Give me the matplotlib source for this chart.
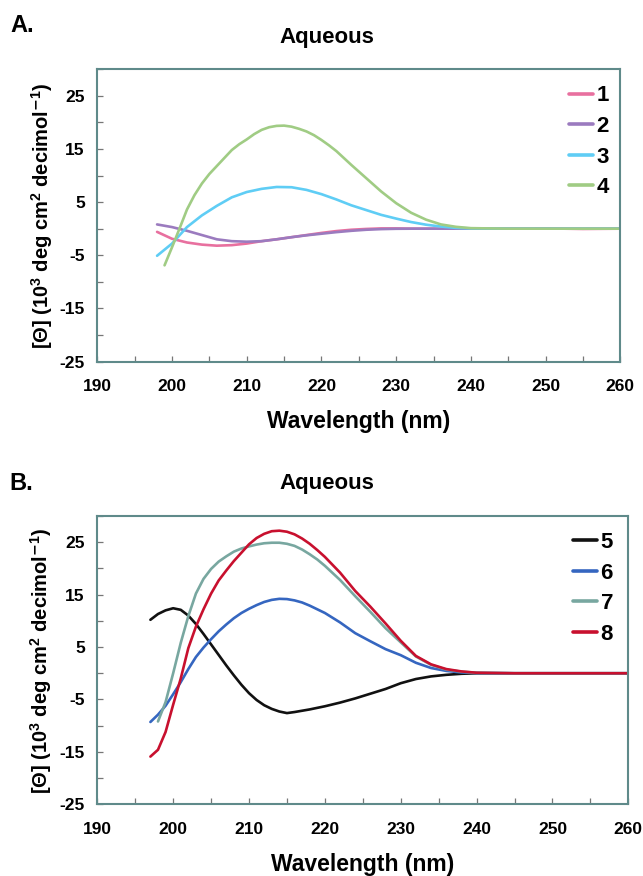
import matplotlib
matplotlib.use("Agg")
import matplotlib.pyplot as plt
from matplotlib.ticker import MultipleLocator

plt.rcParams["font.family"] = ["Liberation Sans", "DejaVu Sans"]
plt.rcParams["font.weight"] = "bold"
plt.rcParams["axes.unicode_minus"] = False
plt.rcParams["mathtext.fontset"] = "custom"
plt.rcParams["mathtext.rm"] = "Liberation Sans:bold"
plt.rcParams["mathtext.bf"] = "Liberation Sans:bold"
plt.rcParams["mathtext.default"] = "bf"

# ---- Panel A: peptides 1-4 in aqueous buffer ----
tail = [245, 250, 255, 260]
wl_a = [198, 200, 202, 204, 206, 208, 210, 212, 214, 216, 218, 220,
        222, 224, 226, 228, 230, 232, 234, 236, 238, 240] + tail
theta_1 = [-0.6, -1.9, -2.6, -3.0, -3.2, -3.1, -2.8, -2.35, -2.0, -1.6, -1.2, -0.8,
           -0.45, -0.2, -0.05, 0.05, 0.05, 0.0, 0.0, 0.0, 0.0, 0.0, 0.0, 0.05, -0.05, 0.0]
theta_2 = [0.8, 0.3, -0.4, -1.2, -2.0, -2.35, -2.45, -2.35, -2.0, -1.6, -1.25, -0.95,
           -0.65, -0.4, -0.2, -0.08, -0.02, 0.0, 0.0, 0.0, 0.0, 0.0, 0.0, 0.0, 0.0, 0.0]
theta_3 = [-5.1, -2.8, 0.3, 2.5, 4.3, 5.9, 6.9, 7.5, 7.85, 7.8, 7.3, 6.5,
           5.5, 4.4, 3.5, 2.6, 1.9, 1.25, 0.75, 0.4, 0.15, 0.05, 0.0, 0.0, 0.0, 0.0]
wl_a4 = [199, 200, 201, 202, 203, 204, 205, 206, 207, 208, 209, 210, 211, 212, 213, 214, 215,
         216, 217, 218, 219, 220, 221, 222, 223, 224, 226, 228, 230, 232, 234, 236, 238,
         240] + tail
theta_4 = [-6.9, -3.5, 0.0, 3.6, 6.3, 8.5, 10.3, 11.8, 13.3, 14.8, 15.9, 16.8, 17.8, 18.6,
           19.1, 19.35, 19.4, 19.2, 18.8, 18.3, 17.6, 16.7, 15.7, 14.6, 13.3, 12.0, 9.5, 7.0,
           4.8, 3.0, 1.7, 0.8, 0.35, 0.1, 0.0, 0.0, 0.0, 0.0]

# ---- Panel B: peptides 5-8 in aqueous buffer ----
wl_b5 = [197, 198, 199, 200, 201, 202, 203, 204, 205, 206, 207, 208, 209, 210, 211, 212, 213,
         214, 215, 216, 218, 220, 222, 224, 226, 228, 230, 232, 234, 236, 238, 240] + tail
theta_5 = [10.2, 11.3, 12.0, 12.4, 12.1, 11.0, 9.4, 7.5, 5.5, 3.5, 1.5, -0.4, -2.2, -3.8, -5.1,
           -6.1, -6.8, -7.3, -7.6, -7.4, -6.9, -6.3, -5.6, -4.8, -3.9, -3.0, -1.9, -1.1,
           -0.6, -0.3, -0.1, 0.0, 0.0, 0.0, 0.0, 0.0]
wl_b6 = [197, 198, 199, 200, 201, 202, 203, 204, 205, 206, 207, 208, 209, 210, 211, 212, 213,
         214, 215, 216, 217, 218, 220, 222, 224, 226, 228, 230, 232, 234, 236, 238,
         240] + tail
theta_6 = [-9.3, -7.9, -6.2, -4.0, -1.7, 0.8, 3.1, 4.9, 6.5, 8.0, 9.3, 10.5, 11.5, 12.3, 13.0,
           13.6, 14.0, 14.2, 14.15, 13.9, 13.5, 12.9, 11.5, 9.7, 7.65, 6.1, 4.6, 3.45, 2.0,
           1.0, 0.45, 0.15, 0.05, 0.0, 0.0, 0.0, 0.0]
wl_b7 = [198, 199, 200, 201, 202, 203, 204, 205, 206, 207, 208, 209, 210, 211, 212, 213, 214,
         215, 216, 217, 218, 219, 220, 222, 224, 226, 228, 230, 232, 234, 236, 238,
         240] + tail
theta_7 = [-9.2, -5.5, 0.0, 5.8, 10.9, 15.2, 18.0, 19.9, 21.3, 22.3, 23.2, 23.8, 24.2, 24.55,
           24.8, 24.9, 24.9, 24.7, 24.3, 23.6, 22.7, 21.7, 20.5, 17.8, 14.7, 11.7, 8.6, 5.9,
           3.2, 1.6, 0.7, 0.3, 0.1, 0.0, 0.0, 0.0, 0.0]
wl_b8 = [197, 198, 199, 200, 201, 202, 203, 204, 205, 206, 207, 208, 209, 210, 211, 212, 213,
         214, 215, 216, 217, 218, 219, 220, 222, 224, 226, 228, 230, 232, 234, 236, 238,
         240] + tail
theta_8 = [-15.9, -14.6, -11.2, -6.0, -1.0, 4.8, 8.9, 12.2, 15.2, 17.7, 19.6, 21.4, 23.0, 24.6,
           25.8, 26.6, 27.1, 27.2, 27.0, 26.5, 25.7, 24.7, 23.5, 22.2, 19.2, 15.7, 12.7, 9.5,
           6.2, 3.3, 1.7, 0.8, 0.35, 0.1, 0.0, 0.0, 0.0, 0.0]

panel_a = [("1", wl_a, theta_1, "#e8709f"),
           ("2", wl_a, theta_2, "#9b7bbf"),
           ("3", wl_a, theta_3, "#5fcdf5"),
           ("4", wl_a4, theta_4, "#a0cc84")]
panel_b = [("5", wl_b5, theta_5, "#111111"),
           ("6", wl_b6, theta_6, "#3566c0"),
           ("7", wl_b7, theta_7, "#78a7a0"),
           ("8", wl_b8, theta_8, "#c8102e")]

x_ticks = [190, 200, 210, 220, 230, 240, 250, 260]
y_ticks = [-25, -15, -5, 5, 15, 25]
ylabel = "[Θ] (10$^{3}$ deg cm$^{2}$ decimol$^{\\mathsf{-}1}$)"
spine_color = "#5f8a8a"

W, H = 643, 876
fig = plt.figure(figsize=(W / 100, H / 100), dpi=100)


def px_axes(left, top, right, bottom):
    return fig.add_axes([left / W, 1 - bottom / H, (right - left) / W, (bottom - top) / H])


def style(ax, series, xlab_y, leg_anchor):
    for name, x, y, c in series:
        ax.plot(x, y, color=c, lw=1.9, label=name, solid_capstyle="round",
                solid_joinstyle="round")
    ax.set_xlim(190, 260)
    ax.set_ylim(-25, 30)
    ax.set_xticks(x_ticks)
    ax.set_yticks(y_ticks)
    ax.xaxis.set_minor_locator(MultipleLocator(5))
    ax.yaxis.set_minor_locator(MultipleLocator(5))
    ax.tick_params(which="both", direction="in", length=4.5, width=0.9, color="#777777",
                   labelsize=12.5)
    ax.tick_params(axis="x", which="major", pad=12.5)
    ax.tick_params(axis="y", which="major", pad=9)
    for lab in ax.get_xticklabels() + ax.get_yticklabels():
        lab.set_fontweight("bold")
    for s in ax.spines.values():
        s.set_color(spine_color)
        s.set_linewidth(1.5)
    ax.set_xlabel("Wavelength (nm)", fontsize=16.5, fontweight="bold", va="center")
    ax.xaxis.set_label_coords(0.5, xlab_y)
    ax.set_ylabel(ylabel, fontsize=14.5, fontweight="bold", va="center")
    ax.yaxis.set_label_coords(-0.106, 0.5)
    leg = ax.legend(loc="upper right", bbox_to_anchor=leg_anchor, frameon=False,
                    handlelength=1.1, handletextpad=0.15, labelspacing=0.43,
                    borderaxespad=0.0, prop={"size": 16, "weight": "bold"})
    for line in leg.get_lines():
        line.set_linewidth(2.6)


ax_a = px_axes(97.3, 69.3, 620.3, 361.5)
style(ax_a, panel_a, -0.204, (0.995, 0.975))
ax_b = px_axes(97.3, 516.0, 628.3, 804.3)
style(ax_b, panel_b, -0.21, (0.988, 0.975))

fig.text(10 / W, 1 - 25 / H, "A.", fontsize=17, fontweight="bold", ha="left", va="center")
fig.text(327 / W, 1 - 38 / H, "Aqueous", fontsize=16, fontweight="bold", ha="center", va="center")
fig.text(9 / W, 1 - 483 / H, "B.", fontsize=17, fontweight="bold", ha="left", va="center")
fig.text(327 / W, 1 - 483 / H, "Aqueous", fontsize=16, fontweight="bold", ha="center", va="center")

fig.savefig("out.png", dpi=100)
